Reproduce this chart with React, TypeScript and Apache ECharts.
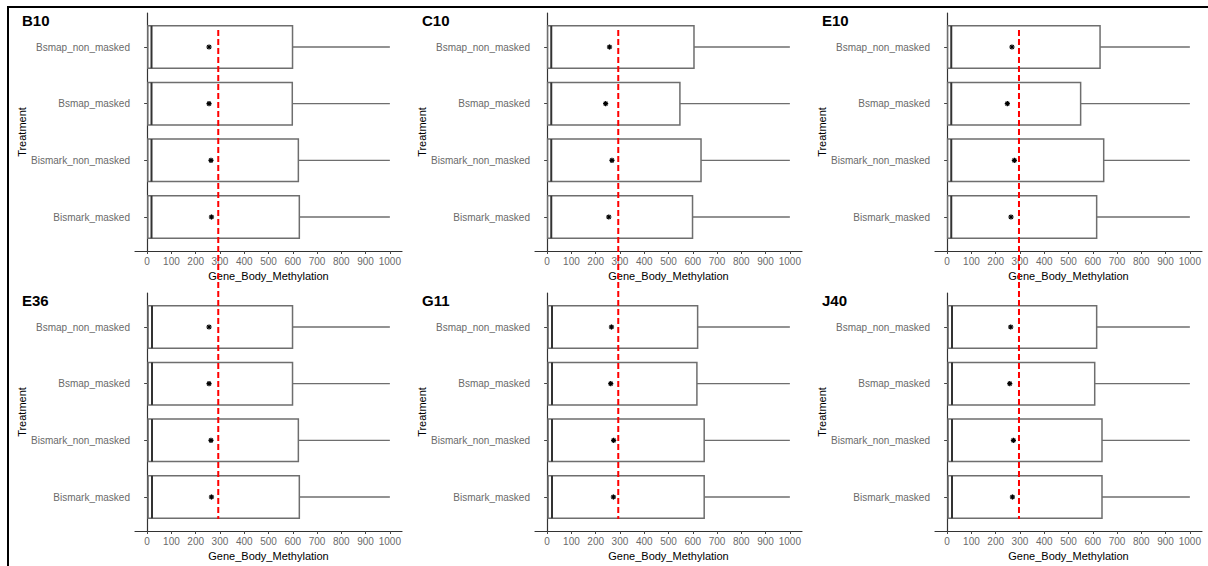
import React, { useEffect, useRef } from "react";
import * as echarts from "echarts";

// Categories, bottom to top
const categories = ["Bismark_masked", "Bismark_non_masked", "Bsmap_masked", "Bsmap_non_masked"];
const panelNames = ["B10", "C10", "E10", "E36", "G11", "J40"];
const xTicks = [0, 100, 200, 300, 400, 500, 600, 700, 800, 900, 1000];

// values per panel, in category order (bottom -> top)
const minValues = [
  [0, 0, 0, 0], [0, 0, 0, 0], [0, 0, 0, 0],
  [0, 0, 0, 0], [0, 0, 0, 0], [0, 0, 0, 0],
];
const q1Values = [
  [3, 3, 3, 3], [2, 2, 2, 2], [2, 2, 2, 2],
  [4, 4, 4, 4], [4, 4, 4, 4], [4, 4, 4, 4],
];
const medianValues = [
  [18, 18, 18, 18], [17, 17, 17, 17], [17, 17, 17, 17],
  [20, 20, 20, 20], [20, 20, 20, 20], [20, 20, 20, 20],
];
const q3Values = [
  [627, 623, 598, 599],
  [599, 634, 547, 605],
  [616, 645, 550, 630],
  [627, 623, 599, 599],
  [647, 647, 617, 620],
  [638, 638, 608, 616],
];
const maxValues = [
  [1000, 1000, 1000, 1000], [1000, 1000, 1000, 1000], [1000, 1000, 1000, 1000],
  [1000, 1000, 1000, 1000], [1000, 1000, 1000, 1000], [1000, 1000, 1000, 1000],
];
const meanValues = [
  [265, 263, 255, 255],
  [254, 267, 241, 257],
  [263, 277, 248, 267],
  [265, 263, 255, 255],
  [273, 274, 262, 265],
  [269, 273, 258, 262],
];
// red dashed reference line, one per column
const referenceValues = [293, 293, 296];

const FONT = "Liberation Sans, Arial, sans-serif";

export default function App() {
  const ref = useRef<HTMLDivElement>(null);

  useEffect(() => {
    if (!ref.current) return;
    const chart = echarts.init(ref.current, null, { renderer: "svg" });

    const grids: any[] = [];
    const xAxes: any[] = [];
    const yAxes: any[] = [];
    const series: any[] = [];
    const titles: any[] = [];

    panelNames.forEach((name, i) => {
      const c = i % 3;
      const r = Math.floor(i / 3);
      const dx = 400 * c;
      const dy = 280 * r;
      grids.push({ left: 135 + dx, top: 13 + dy, width: 267, height: 238, containLabel: false });
      titles.push({
        text: name,
        left: 22 + dx,
        top: 13 + dy,
        padding: 0,
        textStyle: { fontSize: 15, fontWeight: "bold", color: "#000", fontFamily: FONT },
      });
      xAxes.push({
        gridIndex: i,
        type: "value",
        min: -50,
        max: 1050,
        splitLine: { show: false },
        axisLine: { show: true, lineStyle: { color: "#333", width: 1.2 } },
        axisTick: { show: true, customValues: xTicks, length: 3, lineStyle: { color: "#444" } },
        axisLabel: {
          customValues: xTicks,
          formatter: (v: number) => String(v),
          fontSize: 10,
          color: "#6a6a6a",
          margin: 5,
          fontFamily: FONT,
        },
        name: "Gene_Body_Methylation",
        nameLocation: "middle",
        nameGap: 19,
        nameTextStyle: { fontSize: 11, color: "#000", fontFamily: FONT },
      });
      yAxes.push({
        gridIndex: i,
        type: "value",
        min: 0.4,
        max: 4.6,
        splitLine: { show: false },
        axisLine: { show: true, lineStyle: { color: "#333", width: 1.2 } },
        axisTick: { show: true, customValues: [1, 2, 3, 4], length: 3, lineStyle: { color: "#444" } },
        axisLabel: {
          customValues: [1, 2, 3, 4],
          formatter: (v: number) => categories[Math.round(v) - 1] ?? "",
          fontSize: 10,
          color: "#6a6a6a",
          margin: 5,
          fontFamily: FONT,
        },
        name: "Treatment",
        nameLocation: "middle",
        nameGap: 108,
        nameTextStyle: { fontSize: 11, color: "#000", fontFamily: FONT },
      });

      const data = categories.map((_, k) => [
        minValues[i][k],
        q1Values[i][k],
        medianValues[i][k],
        q3Values[i][k],
        maxValues[i][k],
        meanValues[i][k],
        k + 1,
      ]);

      series.push({
        type: "custom",
        xAxisIndex: i,
        yAxisIndex: i,
        data,
        encode: { x: [0, 1, 2, 3, 4, 5], y: 6 },
        clip: false,
        renderItem: (params: any, api: any) => {
          const y = api.value(6);
          const pMin = api.coord([api.value(0), y]);
          const pQ1 = api.coord([api.value(1), y]);
          const pMed = api.coord([api.value(2), y]);
          const pQ3 = api.coord([api.value(3), y]);
          const pMax = api.coord([api.value(4), y]);
          const pMean = api.coord([api.value(5), y]);
          const half = api.size([0, 0.75])[1] / 2;
          const stroke = "#6e6e6e";
          const s = 2.6;
          const d = s * 0.72;
          return {
            type: "group",
            children: [
              { type: "line", shape: { x1: pMin[0], y1: pMin[1], x2: pQ1[0], y2: pQ1[1] }, style: { stroke, lineWidth: 1.4 } },
              { type: "line", shape: { x1: pQ3[0], y1: pQ3[1], x2: pMax[0], y2: pMax[1] }, style: { stroke, lineWidth: 1.4 } },
              {
                type: "rect",
                shape: { x: pQ1[0], y: pQ1[1] - half, width: pQ3[0] - pQ1[0], height: half * 2 },
                style: { fill: "#fff", stroke, lineWidth: 1.5 },
              },
              { type: "line", shape: { x1: pMed[0], y1: pMed[1] - half, x2: pMed[0], y2: pMed[1] + half }, style: { stroke: "#333", lineWidth: 2 } },
              { type: "line", shape: { x1: pMean[0] - s, y1: pMean[1], x2: pMean[0] + s, y2: pMean[1] }, style: { stroke: "#000", lineWidth: 1.3 } },
              { type: "line", shape: { x1: pMean[0], y1: pMean[1] - s, x2: pMean[0], y2: pMean[1] + s }, style: { stroke: "#000", lineWidth: 1.3 } },
              { type: "line", shape: { x1: pMean[0] - d, y1: pMean[1] - d, x2: pMean[0] + d, y2: pMean[1] + d }, style: { stroke: "#000", lineWidth: 1.3 } },
              { type: "line", shape: { x1: pMean[0] - d, y1: pMean[1] + d, x2: pMean[0] + d, y2: pMean[1] - d }, style: { stroke: "#000", lineWidth: 1.3 } },
            ],
          };
        },
      });
    });

    chart.setOption({
      animation: false,
      backgroundColor: "#fff",
      title: titles,
      grid: grids,
      xAxis: xAxes,
      yAxis: yAxes,
      series,
    });

    // reference lines spanning both rows of each column, positioned via axis scales
    const graphics: any[] = [
      { type: "line", shape: { x1: 7, y1: 7, x2: 1208, y2: 7 }, style: { stroke: "#000", lineWidth: 2 }, z: 100 },
      { type: "line", shape: { x1: 8, y1: 6, x2: 8, y2: 566 }, style: { stroke: "#000", lineWidth: 2 }, z: 100 },
    ];
    referenceValues.forEach((v, c) => {
      const x = chart.convertToPixel({ xAxisIndex: c } as any, v) as unknown as number;
      const yTop = chart.convertToPixel({ yAxisIndex: c } as any, 4.3) as unknown as number;
      const yBot = chart.convertToPixel({ yAxisIndex: c + 3 } as any, 0.61) as unknown as number;
      graphics.push({
        type: "line",
        shape: { x1: x, y1: yTop, x2: x, y2: yBot },
        style: { stroke: "#ff0000", lineWidth: 2, lineDash: [6, 3] },
        z: 100,
      });
    });
    chart.setOption({ graphic: graphics });

    return () => chart.dispose();
  }, []);

  return (
    <div
      ref={ref}
      style={{ position: "fixed", left: 0, top: 0, width: 1208, height: 566, background: "#fff" }}
    />
  );
}
